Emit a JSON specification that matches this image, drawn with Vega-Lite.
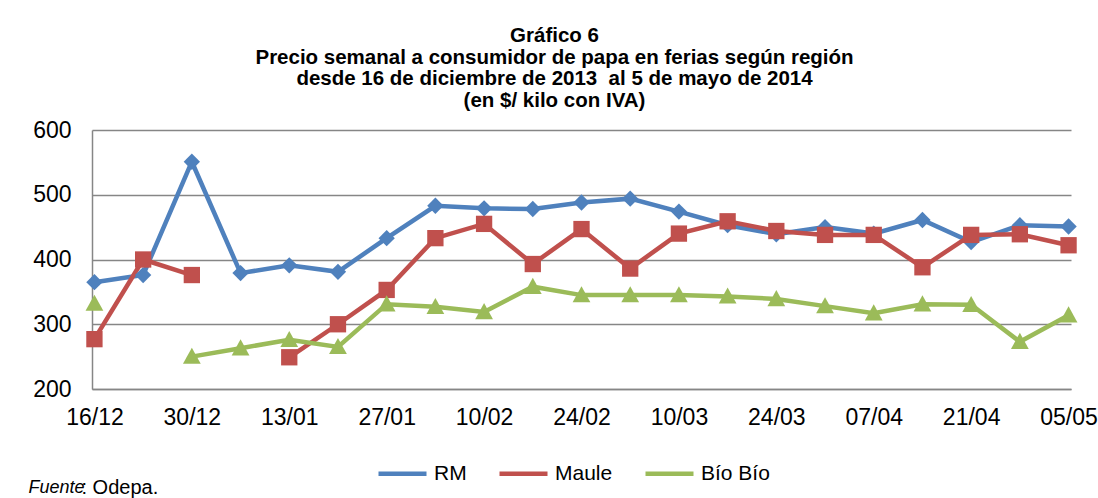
{
  "$schema": "https://vega.github.io/schema/vega-lite/v6.json",
  "width": 979,
  "height": 259,
  "autosize": {"type": "none"},
  "padding": {"left": 92, "top": 130, "right": 27, "bottom": 109},
  "background": "white",
  "title": {
    "text": ["Gráfico 6", "Precio semanal a consumidor de papa en ferias según región", "desde 16 de diciembre de 2013\u00a0 al 5 de mayo de 2014", "(en $/ kilo con IVA)"],
    "font": "Liberation Sans",
    "fontSize": 20.5,
    "fontWeight": "bold",
    "color": "#000000",
    "lineHeight": 21.5,
    "anchor": "middle",
    "frame": "group",
    "dx": -27,
    "offset": 8
  },
  "data": {
    "values": [
      {"semana": "16/12", "region": "RM", "precio": 365},
      {"semana": "23/12", "region": "RM", "precio": 376},
      {"semana": "30/12", "region": "RM", "precio": 551},
      {"semana": "06/01", "region": "RM", "precio": 379},
      {"semana": "13/01", "region": "RM", "precio": 391},
      {"semana": "20/01", "region": "RM", "precio": 381},
      {"semana": "27/01", "region": "RM", "precio": 433},
      {"semana": "03/02", "region": "RM", "precio": 483},
      {"semana": "10/02", "region": "RM", "precio": 479},
      {"semana": "17/02", "region": "RM", "precio": 478},
      {"semana": "24/02", "region": "RM", "precio": 488},
      {"semana": "03/03", "region": "RM", "precio": 494},
      {"semana": "10/03", "region": "RM", "precio": 474},
      {"semana": "17/03", "region": "RM", "precio": 453},
      {"semana": "24/03", "region": "RM", "precio": 439},
      {"semana": "31/03", "region": "RM", "precio": 450},
      {"semana": "07/04", "region": "RM", "precio": 440},
      {"semana": "14/04", "region": "RM", "precio": 461},
      {"semana": "21/04", "region": "RM", "precio": 427},
      {"semana": "28/04", "region": "RM", "precio": 453},
      {"semana": "05/05", "region": "RM", "precio": 451},
      {"semana": "16/12", "region": "Maule", "precio": 277},
      {"semana": "23/12", "region": "Maule", "precio": 400},
      {"semana": "30/12", "region": "Maule", "precio": 376},
      {"semana": "06/01", "region": "Maule", "precio": null},
      {"semana": "13/01", "region": "Maule", "precio": 249},
      {"semana": "20/01", "region": "Maule", "precio": 300},
      {"semana": "27/01", "region": "Maule", "precio": 353},
      {"semana": "03/02", "region": "Maule", "precio": 433},
      {"semana": "10/02", "region": "Maule", "precio": 455},
      {"semana": "17/02", "region": "Maule", "precio": 393},
      {"semana": "24/02", "region": "Maule", "precio": 447},
      {"semana": "03/03", "region": "Maule", "precio": 386},
      {"semana": "10/03", "region": "Maule", "precio": 440},
      {"semana": "17/03", "region": "Maule", "precio": 459},
      {"semana": "24/03", "region": "Maule", "precio": 444},
      {"semana": "31/03", "region": "Maule", "precio": 438},
      {"semana": "07/04", "region": "Maule", "precio": 438},
      {"semana": "14/04", "region": "Maule", "precio": 388},
      {"semana": "21/04", "region": "Maule", "precio": 438},
      {"semana": "28/04", "region": "Maule", "precio": 439},
      {"semana": "05/05", "region": "Maule", "precio": 422},
      {"semana": "16/12", "region": "Bío Bío", "precio": 332},
      {"semana": "23/12", "region": "Bío Bío", "precio": null},
      {"semana": "30/12", "region": "Bío Bío", "precio": 250},
      {"semana": "06/01", "region": "Bío Bío", "precio": 263},
      {"semana": "13/01", "region": "Bío Bío", "precio": 276},
      {"semana": "20/01", "region": "Bío Bío", "precio": 265},
      {"semana": "27/01", "region": "Bío Bío", "precio": 331},
      {"semana": "03/02", "region": "Bío Bío", "precio": 327},
      {"semana": "10/02", "region": "Bío Bío", "precio": 319},
      {"semana": "17/02", "region": "Bío Bío", "precio": 358},
      {"semana": "24/02", "region": "Bío Bío", "precio": 345},
      {"semana": "03/03", "region": "Bío Bío", "precio": 345},
      {"semana": "10/03", "region": "Bío Bío", "precio": 345},
      {"semana": "17/03", "region": "Bío Bío", "precio": 343},
      {"semana": "24/03", "region": "Bío Bío", "precio": 339},
      {"semana": "31/03", "region": "Bío Bío", "precio": 328},
      {"semana": "07/04", "region": "Bío Bío", "precio": 317},
      {"semana": "14/04", "region": "Bío Bío", "precio": 331},
      {"semana": "21/04", "region": "Bío Bío", "precio": 330},
      {"semana": "28/04", "region": "Bío Bío", "precio": 273},
      {"semana": "05/05", "region": "Bío Bío", "precio": 314}
    ]
  },
  "encoding": {
    "x": {
      "field": "semana",
      "type": "ordinal",
      "sort": null,
      "scale": {"type": "point", "padding": 0.05},
      "axis": {
        "values": ["16/12", "30/12", "13/01", "27/01", "10/02", "24/02", "10/03", "24/03", "07/04", "21/04", "05/05"],
        "labelAngle": 0,
        "labelFont": "Liberation Sans",
        "labelFontSize": 23,
        "labelColor": "#000000",
        "labelPadding": 17,
        "labelBaseline": "top",
        "ticks": false,
        "domain": true,
        "domainColor": "#868686",
        "domainWidth": 1.5,
        "grid": false,
        "title": "Fuente",
        "titleFont": "Liberation Sans",
        "titleFontSize": 18,
        "titleFontStyle": "italic",
        "titleFontWeight": "normal",
        "titleColor": "#000000",
        "titleX": -64,
        "titleY": 98,
        "titleAlign": "left",
        "titleBaseline": "middle"
      }
    },
    "y": {
      "field": "precio",
      "type": "quantitative",
      "scale": {"domain": [200, 600], "nice": false, "zero": false},
      "axis": {
        "values": [200, 300, 400, 500, 600],
        "labelFont": "Liberation Sans",
        "labelFontSize": 23,
        "labelColor": "#000000",
        "labelPadding": 21,
        "ticks": false,
        "domain": true,
        "domainColor": "#868686",
        "domainWidth": 1.5,
        "grid": true,
        "gridColor": "#868686",
        "gridWidth": 1.5,
        "title": ": Odepa.",
        "titleFont": "Liberation Sans",
        "titleFontSize": 20,
        "titleFontWeight": "normal",
        "titleColor": "#000000",
        "titleAngle": 0,
        "titleX": -11,
        "titleY": 357,
        "titleAlign": "left",
        "titleBaseline": "middle"
      }
    }
  },
  "layer": [
    {
      "mark": {"type": "line", "strokeWidth": 4.5, "invalid": "break-paths-show-domains"},
      "encoding": {
        "color": {
          "field": "region",
          "type": "nominal",
          "scale": {"domain": ["RM", "Maule", "Bío Bío"], "range": ["#4F81BD", "#C0504D", "#9BBB59"]},
          "legend": {"symbolType": "stroke", "symbolStrokeWidth": 4.5}
        }
      }
    },
    {
      "mark": {"type": "point", "filled": true, "opacity": 1, "size": 2304},
      "encoding": {
        "color": {
          "field": "region",
          "type": "nominal",
          "scale": {"domain": ["RM", "Maule", "Bío Bío"], "range": ["#4F81BD", "#C0504D", "#9BBB59"]},
          "legend": null
        },
        "shape": {
          "field": "region",
          "type": "nominal",
          "scale": {"domain": ["RM", "Maule", "Bío Bío"], "range": ["M0,-0.34L0.34,0L0,0.34L-0.34,0Z", "M-0.34,-0.34H0.34V0.34H-0.34Z", "M0,-0.37L0.37,0.3H-0.37Z"]},
          "legend": null
        }
      }
    }
  ],
  "resolve": {"legend": {"color": "independent", "shape": "independent"}},
  "config": {
    "view": {"stroke": null},
    "font": "Liberation Sans",
    "legend": {
      "title": null,
      "orient": "none",
      "direction": "horizontal",
      "legendX": 284,
      "legendY": 317,
      "padding": 0,
      "symbolSize": 2304,
      "labelFont": "Liberation Sans",
      "labelFontSize": 21,
      "labelColor": "#000000",
      "labelOffset": 5,
      "columnPadding": 23
    }
  }
}
